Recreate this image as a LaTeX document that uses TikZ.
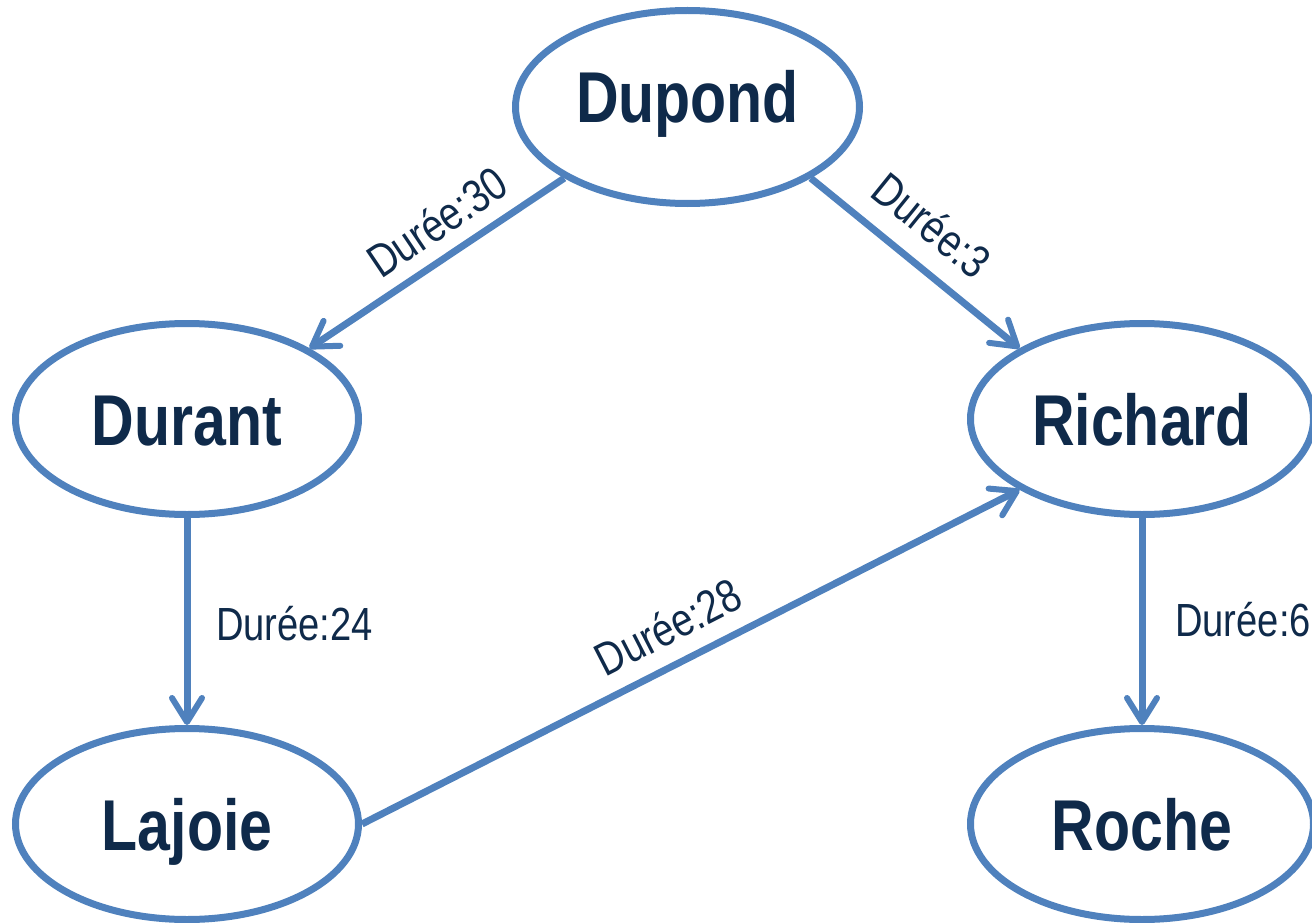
\documentclass[tikz,border=0pt]{standalone}
\usepackage{fontspec}
\setmainfont{Liberation Sans}[FakeStretch=0.82]
\usetikzlibrary{shapes.geometric,arrows.meta}
\definecolor{edgeblue}{HTML}{4F81BD}
\definecolor{inkblue}{HTML}{0F2A4A}
\tikzset{
  person/.style={ellipse, draw=edgeblue, line width=7pt, minimum width=343pt,
    minimum height=191pt, inner sep=0pt, text=inkblue,
    font=\fontsize{72}{80}\selectfont\bfseries, text height=52pt, text depth=0pt},
  link/.style={draw=edgeblue, line width=7pt,
    -{Straight Barb[length=24pt,width=30pt,line width=6pt,round]}},
  duree/.style={text=inkblue, font=\fontsize{46.5}{50}\selectfont,
    inner sep=0pt, text height=33pt, text depth=0pt}
}
\begin{document}
\begin{tikzpicture}[x=1pt,y=-1pt]
  \useasboundingbox (0,0) rectangle (1312,923);

  % people
  \node[person, minimum width=344pt, minimum height=193pt, text depth=21pt] (dupond) at (687.5,107) {Dupond};
  \node[person] (durant)  at (187,419)  {Durant};
  \node[person] (richard) at (1142,419) {Richard};
  \node[person] (lajoie)  at (187,824)  {Lajoie};
  \node[person] (roche)   at (1142,824) {Roche};

  % dependencies
  \draw[link] (dupond.210) -- (durant.30);
  \draw[link] (dupond.-30) -- (richard.150);
  \draw[link] (durant.south) -- (lajoie.north);
  \draw[link] (lajoie.east) -- (richard.210);
  \draw[link] (richard.south) -- (roche.north);

  % durations
  \node[duree, rotate=33.9] (d30) at (437,222)   {Durée:30};
  \node[duree, rotate=-39]  (d3)  at (932,225)   {Durée:3};
  \node[duree]              (d24) at (294.5,624) {Durée:24};
  \node[duree, rotate=27.2] (d28) at (668,627)   {Durée:28};
  \node[duree]              (d6)  at (1243,620)  {Durée:6};
\end{tikzpicture}
\end{document}
